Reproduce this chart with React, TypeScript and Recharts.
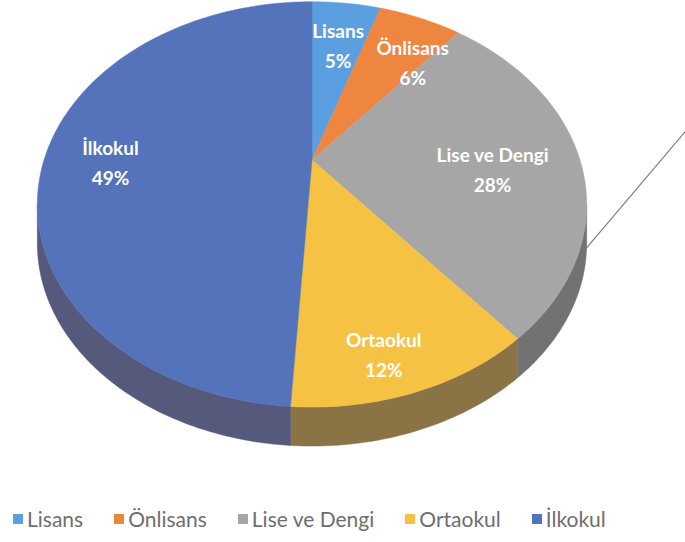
import React from "react";
import { Cell, Customized, Legend, Pie, PieChart } from "recharts";

// education level shares (percent)
const levels = ["Lisans", "Önlisans", "Lise ve Dengi", "Ortaokul", "İlkokul"];
const shares = [5, 6, 28, 12, 49];

const topColors = ["#5b9fe0", "#ee8640", "#a6a6a6", "#f6c244", "#5473ba"];
const wallColors = ["#3f6e9c", "#9a5a34", "#727272", "#8a7446", "#55597c"];
const labelRadius = [0.72, 0.72, 0.67, 0.86, 0.76];
const labelNudge = [[0, -3], [19, 2], [1, 2], [-15, -5], [1, 0]];

const data = levels.map((name, i) => ({ name, value: shares[i] }));

// 3D look: tilted disc with some perspective
const TILT = 0.72;
const PERSP = 0.219;
const DEPTH = 39;
const RAD = Math.PI / 180;

function project(cx: number, cy: number, r: number, deg: number, frac = 1) {
  const u = Math.cos(deg * RAD) * frac;
  const v = Math.sin(deg * RAD) * frac;
  const d = 1 + PERSP * v;
  return { x: cx + (r * u) / d, y: cy - (r * TILT * v) / d };
}

function arcPoints(cx: number, cy: number, r: number, from: number, to: number, dy = 0) {
  const steps = Math.max(2, Math.ceil(Math.abs(to - from)));
  const pts: string[] = [];
  for (let i = 0; i <= steps; i++) {
    const a = from + ((to - from) * i) / steps;
    const p = project(cx, cy, r, a);
    pts.push(`${p.x.toFixed(2)},${(p.y + dy).toFixed(2)}`);
  }
  return pts;
}

const TopSector = (props: any) => {
  const { cx, cy, outerRadius, startAngle, endAngle, fill } = props;
  const pts = arcPoints(cx, cy, outerRadius, startAngle, endAngle);
  return <path d={`M${cx},${cy}L${pts.join("L")}Z`} fill={fill} stroke={fill} strokeWidth={0.5} />;
};

// visible rim runs between the two tangent points in front
const VIS_LO = -180 + Math.asin(PERSP) / RAD;
const VIS_HI = -Math.asin(PERSP) / RAD;

const WallSector = (props: any) => {
  const { cx, cy, outerRadius, startAngle, endAngle, fill } = props;
  const lo = Math.max(Math.min(startAngle, endAngle), VIS_LO);
  const hi = Math.min(Math.max(startAngle, endAngle), VIS_HI);
  if (lo >= hi) return <g />;
  const top = arcPoints(cx, cy, outerRadius, hi, lo);
  const bottom = arcPoints(cx, cy, outerRadius, lo, hi, DEPTH);
  return <path d={`M${top.join("L")}L${bottom.join("L")}Z`} fill={fill} stroke={fill} strokeWidth={0.5} />;
};

const renderLabel = (props: any) => {
  const { cx, cy, outerRadius, midAngle, index, name, value } = props;
  const p = project(cx, cy, outerRadius, midAngle, labelRadius[index]);
  const x = p.x + labelNudge[index][0];
  const y = p.y + labelNudge[index][1];
  return (
    <text x={x} y={y} fill="#ffffff" textAnchor="middle" fontFamily="Lato, sans-serif" fontWeight={700} fontSize={19}>
      <tspan x={x} dy={0}>{name}</tspan>
      <tspan x={x} dy={30}>{`${value}%`}</tspan>
    </text>
  );
};

const renderLegend = (props: any) => {
  const items = (props.payload || [])
    .filter((e: any) => e.type !== "none")
    .sort((a: any, b: any) => levels.indexOf(a.value) - levels.indexOf(b.value));
  return (
    <div
      style={{
        display: "flex",
        gap: 31,
        whiteSpace: "nowrap",
        fontFamily: "Lato, sans-serif",
        fontSize: 21,
        color: "#6e6e6e",
      }}
    >
      {items.map((entry: any) => (
        <div key={entry.value} style={{ display: "flex", alignItems: "center" }}>
          <span style={{ width: 10, height: 10, background: entry.color, marginRight: 4, display: "inline-block" }} />
          <span>{entry.value}</span>
        </div>
      ))}
    </div>
  );
};

const PointerLine = () => (
  <line x1={567} y1={271} x2={690} y2={126} stroke="#7d7d7d" strokeWidth={1.2} />
);

export default function App() {
  return (
    <div style={{ position: "absolute", left: 0, top: 0, width: 685, height: 542, background: "#ffffff" }}>
      <PieChart width={685} height={542} margin={{ top: 0, right: 0, bottom: 0, left: 0 }}>
        <Pie
          data={data}
          dataKey="value"
          nameKey="name"
          cx={312}
          cy={160}
          outerRadius={268}
          startAngle={90}
          endAngle={-270}
          legendType="none"
          shape={WallSector}
          inactiveShape={WallSector}
          activeShape={WallSector}
          isAnimationActive={false}
        >
          {levels.map((n, i) => (
            <Cell key={n} fill={wallColors[i]} />
          ))}
        </Pie>
        <Pie
          data={data}
          dataKey="value"
          nameKey="name"
          cx={312}
          cy={160}
          outerRadius={268}
          startAngle={90}
          endAngle={-270}
          legendType="square"
          shape={TopSector}
          inactiveShape={TopSector}
          activeShape={TopSector}
          label={renderLabel}
          labelLine={false}
          isAnimationActive={false}
        >
          {levels.map((n, i) => (
            <Cell key={n} fill={topColors[i]} />
          ))}
        </Pie>
        <Customized component={PointerLine} />
        <Legend content={renderLegend} wrapperStyle={{ left: 13, top: 506, width: 670 }} />
      </PieChart>
    </div>
  );
}
